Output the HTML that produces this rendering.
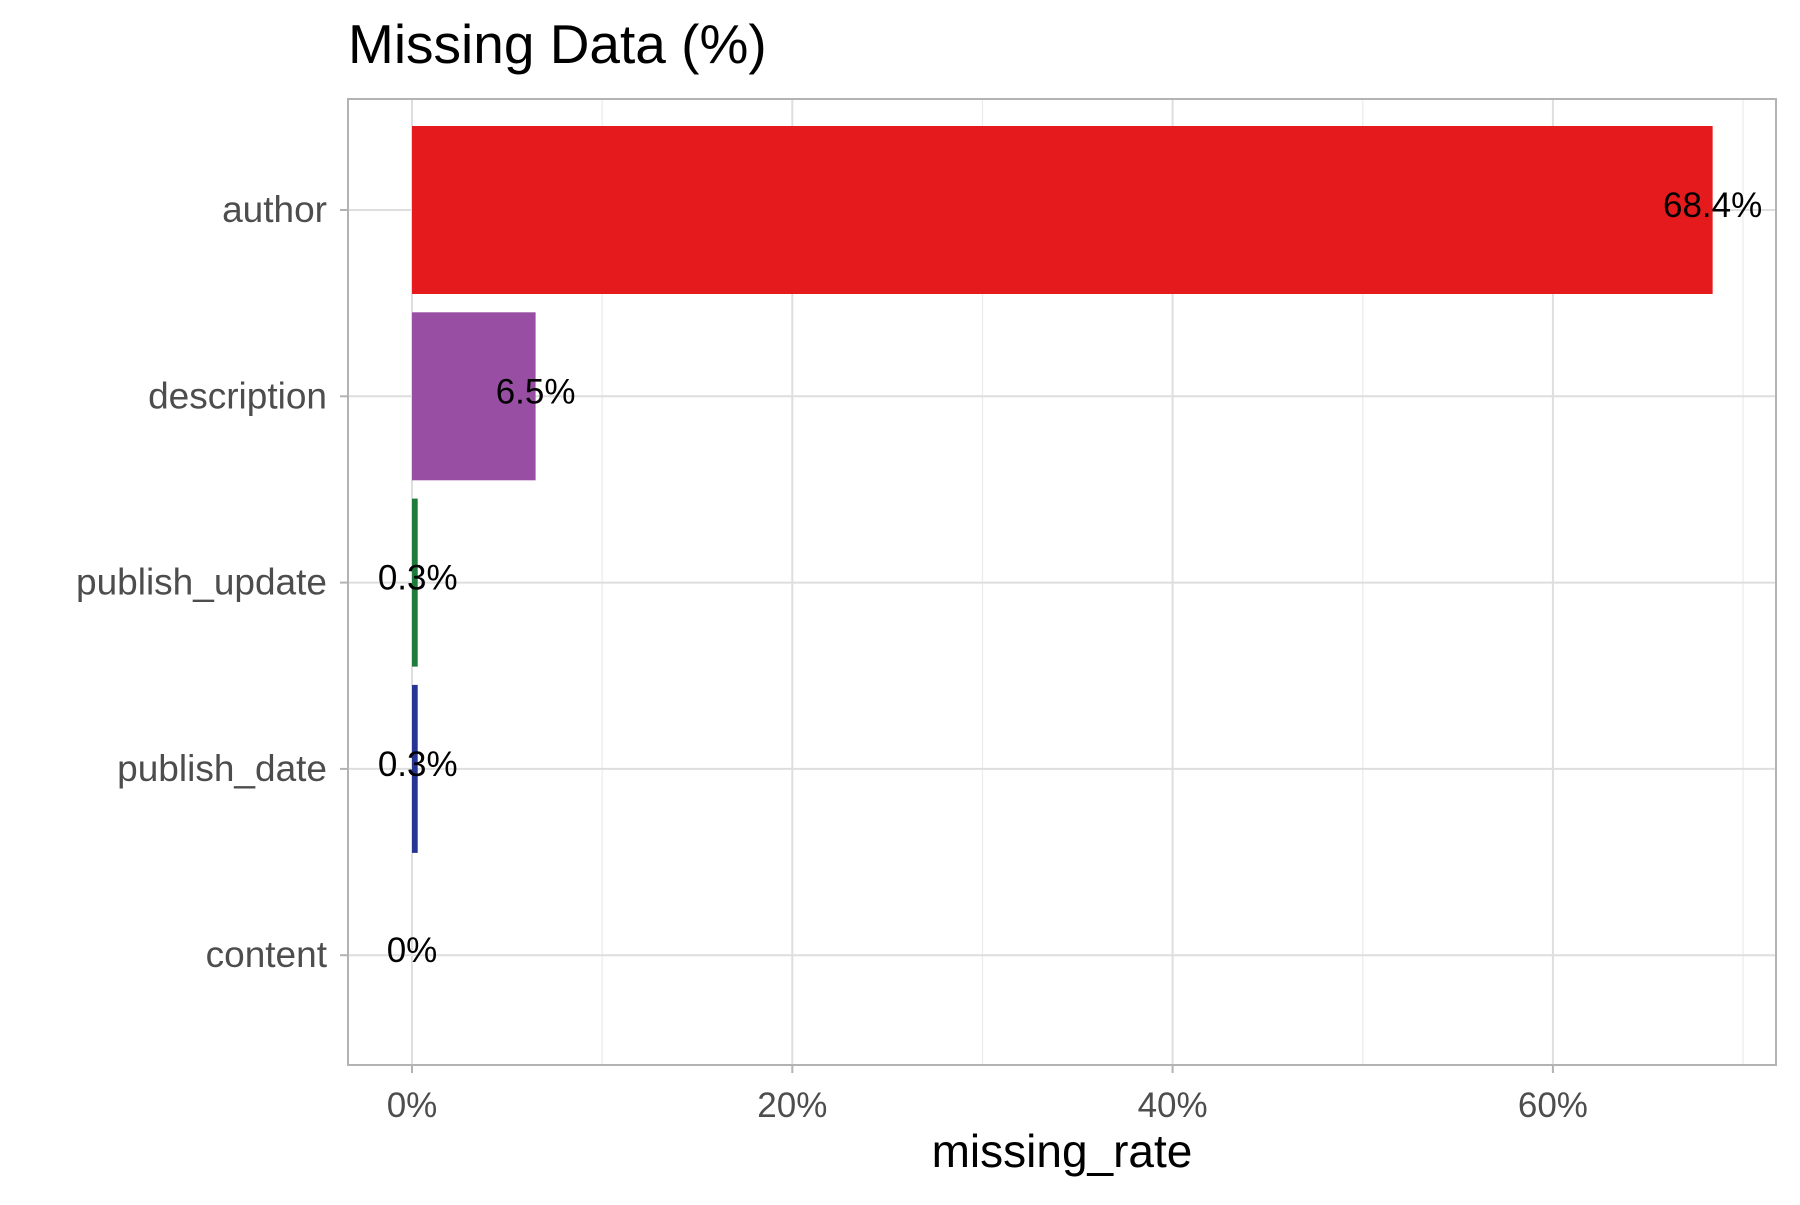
<!DOCTYPE html>
<html><head><meta charset="utf-8"><style>
body{margin:0;background:#fff;}
svg text{font-family:"Liberation Sans",Arial,sans-serif;}
</style></head><body>
<svg width="1800" height="1200" xmlns="http://www.w3.org/2000/svg">
<rect width="1800" height="1200" fill="#fff"/>
<text x="348" y="63" font-size="55" fill="#000">Missing Data (%)</text>
<g id="grid"></g>
<g id="bars"></g>
<g id="labels"></g>
<rect x="348" y="99" width="1428" height="966" fill="none" stroke="#b3b3b3" stroke-width="2"/>
<g id="axes"></g>
<text x="1062" y="1167" font-size="46" text-anchor="middle" fill="#000">missing_rate</text>
</svg>
<script>
const categories = ["author","description","publish_update","publish_date","content"];
const values = [68.4, 6.5, 0.3, 0.3, 0];
const valueLabels = ["68.4%","6.5%","0.3%","0.3%","0%"];
const colors = ["#e41a1c","#984ea3","#1e7b3a","#263593","#ff7f00"];
const xTicks = [0,20,40,60];
const xTickLabels = ["0%","20%","40%","60%"];
const xMinor = [10,30,50,70];

const NS="http://www.w3.org/2000/svg";
const x0=412, perPct=380.3/20;
const xs=v=>x0+v*perPct;
const yTop=210, yStep=186.3;
const ys=i=>yTop+i*yStep;
const halfH=84;
function mk(tag,attrs,parent){const e=document.createElementNS(NS,tag);for(const k in attrs)e.setAttribute(k,attrs[k]);parent.appendChild(e);return e;}
const grid=document.getElementById('grid'),bars=document.getElementById('bars'),labels=document.getElementById('labels'),axes=document.getElementById('axes');
xMinor.forEach(v=>{const l=mk('line',{x1:xs(v),x2:xs(v),y1:99,y2:1065,stroke:'#ebebeb','stroke-width':1.2},grid);

});
xTicks.forEach((v,i)=>{const l=mk('line',{x1:xs(v),x2:xs(v),y1:99,y2:1065,stroke:'#dedede','stroke-width':2},grid);


const t=mk('line',{x1:xs(v),x2:xs(v),y1:1065,y2:1073,stroke:'#b3b3b3','stroke-width':2},axes);


const tx=mk('text',{x:xs(v),y:1117,'font-size':35,'text-anchor':'middle',fill:'#4d4d4d'},axes);tx.textContent=xTickLabels[i];

});
categories.forEach((c,i)=>{const y=ys(i);
const g=mk('line',{x1:348,x2:1776,y1:y,y2:y,stroke:'#dedede','stroke-width':2},grid);


const t=mk('line',{x1:340,x2:348,y1:y,y2:y,stroke:'#b3b3b3','stroke-width':2},axes);


const tx=mk('text',{x:327,y:y+12,'font-size':37,'text-anchor':'end',fill:'#4d4d4d'},axes);tx.textContent=c;


const w=xs(values[i])-x0;
if(w>0){const b=mk('rect',{x:x0,y:y-halfH,width:w,height:2*halfH,fill:colors[i]},bars);

}
const lb=mk('text',{x:xs(values[i]),y:y+7,'font-size':35,'text-anchor':'middle',fill:'#000'},labels);lb.textContent=valueLabels[i];

});
</script>
</body></html>
